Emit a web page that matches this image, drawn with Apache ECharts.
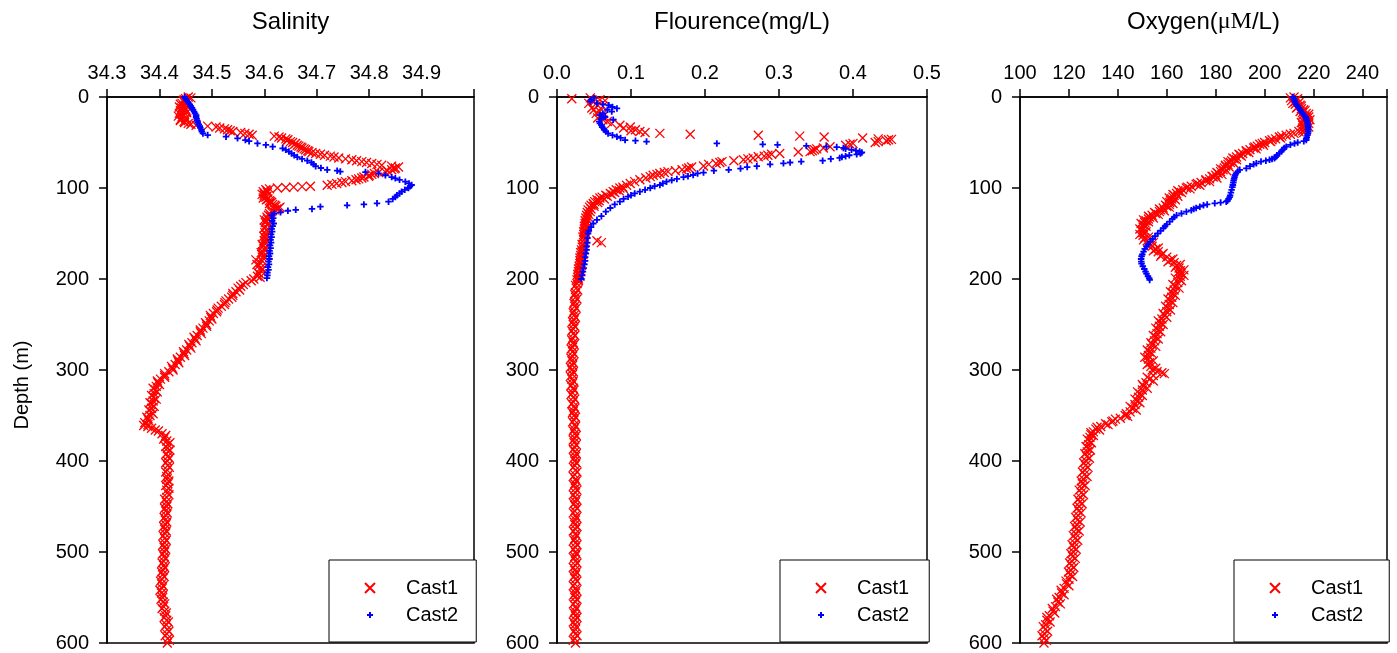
<!DOCTYPE html>
<html><head><meta charset="utf-8">
<script src="https://cdn.jsdelivr.net/npm/echarts@6/dist/echarts.min.js"></script>
<style>html,body{margin:0;padding:0;background:#fff}#c{width:1397px;height:653px}</style>
</head><body><div id="c"></div>
<script>
// ---- data: [depth (m), value] ----
const depthTicks = [0, 100, 200, 300, 400, 500, 600];
const salinityTicks = [34.3, 34.4, 34.5, 34.6, 34.7, 34.8, 34.9];
const flourenceTicks = [0.0, 0.1, 0.2, 0.3, 0.4, 0.5];
const oxygenTicks = [100, 120, 140, 160, 180, 200, 220, 240];

const salC1 = [[0,34.455],[1,34.46],[2,34.45],[3,34.447],[4,34.445],[5,34.452],[6,34.448],[7,34.443],[8,34.44],[9,34.45],[10,34.446],[11,34.438],[12,34.442],[13,34.449],[14,34.45],[15,34.44],[16,34.445],[17,34.452],[18,34.438],[19,34.444],[20,34.447],[21,34.436],[22,34.443],[23,34.45],[24,34.452],[25,34.44],[26,34.44],[27,34.447],[28,34.448],[29,34.455],[30,34.46],
[31,34.47],[32,34.492],[33,34.508],[34,34.515],[35,34.524],[36,34.53],[37,34.535],[38,34.54],[39,34.555],[40,34.563],[41,34.571],[42,34.577],
[43,34.619],[44,34.628],[45,34.633],[46,34.641],[47,34.645],[48,34.643],[49,34.65],[50,34.654],[51,34.66],[52,34.658],[53,34.663],[54,34.666],[55,34.67],[56,34.672],[57,34.676],[58,34.679],[59,34.683],[60,34.685],[61,34.691],[62,34.698],[63,34.707],[64,34.715],[65,34.726],[66,34.733],[67,34.742],[68,34.755],[69,34.767],[70,34.776],[71,34.786],[72,34.795],[73,34.805],[74,34.815],[75,34.824],[76,34.843],[77,34.856],[78,34.85],[79,34.848],[80,34.843],[81,34.835],[82,34.83],[83,34.818],[84,34.81],[85,34.805],[86,34.8],[87,34.799],[88,34.79],[89,34.786],[90,34.78],[91,34.775],[92,34.767],[93,34.755],[94,34.748],[95,34.738],[96,34.729],[97,34.72],
[98,34.688],[98.5,34.672],[99,34.656],[99.5,34.641],[100,34.625],[101,34.61],[102,34.603],[103,34.605],[104,34.598],[105,34.606],[106,34.6],[107,34.596],[108,34.6],[109,34.605],[110,34.603],[111,34.598],[112,34.607],[113,34.604],[114,34.61],[115,34.612],[116,34.614],[117,34.61],[118,34.616],[119,34.62],[120,34.622],[121,34.63],[122,34.628],[123,34.624],[124,34.62],[125,34.615],[126,34.613],[128,34.61],[130,34.608],[132,34.605],[134,34.606],[136,34.604],[138,34.602],[140,34.605],[143,34.603],[146,34.604],[149,34.601],[152,34.604],[155,34.602],[158,34.6],[161,34.601],[164,34.598],[167,34.599],[170,34.597],[173,34.595],[176,34.596],[179,34.584],[182,34.592],[185,34.59],[188,34.593],[191,34.594],[194,34.59],[197,34.587],[200,34.58],[202,34.575],[204,34.565],[206,34.56],[208,34.555],[210,34.55],
[214,34.546],[218,34.54],[222,34.532],[226,34.525],[230,34.518],[234,34.51],[238,34.503],[242,34.498],[246,34.495],[250,34.49],[254,34.483],[258,34.478],[262,34.472],[266,34.468],[270,34.462],[274,34.458],[278,34.452],[282,34.447],[286,34.44],[290,34.435],[294,34.43],[298,34.425],[302,34.418],[306,34.41],[310,34.402],[314,34.397],[318,34.394],[322,34.392],[326,34.39],[330,34.389],[334,34.388],[338,34.386],[342,34.385],[346,34.384],[350,34.382],[354,34.378],[358,34.372],[361,34.37],[364,34.385],[367,34.398],[370,34.405],[374,34.41],[378,34.414],[382,34.416],[386,34.415],[390,34.417],
[395,34.416],[400,34.415],[405,34.416],[410,34.415],[415,34.417],[420,34.414],[425,34.416],[430,34.418],[435,34.415],[440,34.414],[445,34.413],[450,34.414],[455,34.412],[460,34.413],[465,34.411],[470,34.412],[475,34.41],[480,34.411],[485,34.41],[490,34.41],[495,34.409],[500,34.41],[505,34.409],[510,34.408],[515,34.408],[520,34.407],[525,34.406],[530,34.405],[535,34.404],[540,34.405],[545,34.404],[550,34.406],[555,34.407],[560,34.408],[565,34.41],[570,34.412],[575,34.414],[580,34.413],[585,34.415],[590,34.414],[595,34.416],[600,34.415],
[131,34.612],[135,34.6],[139,34.608],[144,34.6],[148,34.607],[153,34.599],[157,34.604],[162,34.596],[166,34.602],[171,34.594],[175,34.6],[180,34.596],[184,34.586],[189,34.597],[193,34.588],[198,34.592],
[212,34.553],[216,34.54],[220,34.538],[224,34.527],[228,34.524],[232,34.512],[236,34.509],[240,34.497],[244,34.5],[248,34.488],[252,34.49],[256,34.478],[260,34.48],[264,34.466],[268,34.47],[272,34.456],[276,34.46],[280,34.446],[284,34.448],[288,34.434],[292,34.437],[296,34.423],[300,34.426],[304,34.41],[308,34.41],[312,34.396],[316,34.4],[320,34.388],[324,34.396],[328,34.385],[332,34.394],[336,34.382],[340,34.39],[344,34.38],[348,34.388],[352,34.376],[356,34.38],[360,34.378],[362,34.378],[366,34.392],[372,34.412],[376,34.408],[380,34.42],[384,34.412],[388,34.42],[392,34.413],[397,34.419],[402,34.412],[407,34.419],[412,34.412],[417,34.414],[422,34.418],[427,34.412],[432,34.414],[437,34.418],[442,34.41],[447,34.416],[452,34.41],[457,34.415],[462,34.409],[467,34.414],[472,34.408],[477,34.413],[482,34.407],[487,34.413],[492,34.407],[497,34.412],[502,34.406],[507,34.411],[512,34.405],[517,34.41],[522,34.404],[527,34.409],[532,34.402],[537,34.407],[542,34.401],[547,34.407],[552,34.403],[557,34.41],[562,34.405],[567,34.413],[572,34.409],[577,34.417],[582,34.41],[587,34.418],[592,34.411],[597,34.419]];

const salC2 = [[0,34.448],[2,34.45],[4,34.452],[6,34.455],[8,34.458],[10,34.46],[12,34.462],[14,34.464],[16,34.466],[18,34.468],[20,34.47],[22,34.47],[24,34.471],[26,34.472],[28,34.473],[30,34.475],[32,34.477],[34,34.478],[36,34.48],[38,34.481],[40,34.483],[41.8,34.492],[43.6,34.527],[45.4,34.549],[47.3,34.564],[48.5,34.571],[51,34.587],[52.7,34.603],[54.6,34.616],[56.4,34.635],[58,34.641],[60,34.647],[62,34.652],[64,34.657],[66,34.663],[68,34.672],[70,34.682],[72,34.69],[74,34.694],[76,34.698],[78,34.708],[80,34.72],[81,34.739],[82,34.745],[82.5,34.793],[84,34.818],[86,34.831],[88,34.843],[89.4,34.85],[91,34.858],[93,34.869],[95,34.876],[96.7,34.881],[98,34.878],[100,34.875],[102,34.868],[104,34.862],[106,34.858],[108,34.853],[110,34.85],[112,34.845],[115,34.837],[116.8,34.815],[118,34.79],[119,34.758],[120.5,34.707],[123,34.691],[124,34.66],[125,34.645],[126.7,34.631],[128,34.619],[130,34.614],[133,34.617],[136,34.615],[139,34.618],[142,34.616],[145,34.614],[148,34.615],[151,34.613],[154,34.614],[157,34.612],[160,34.613],[163,34.611],[166,34.612],[169,34.61],[172,34.611],[175,34.609],[178,34.61],[181,34.608],[184,34.609],[187,34.607],[190,34.608],[193,34.606],[196,34.606],[199,34.605]];

const flC1 = [[2,0.02],[1,0.045],[3,0.058],[4,0.065],[5,0.05],[7,0.043],[9,0.055],[10,0.062],[12,0.047],[14,0.05],[16,0.058],[18,0.053],[20,0.06],[21,0.063],[23,0.055],[25,0.062],[27,0.068],[29,0.074],[31,0.085],[33,0.099],[34,0.09],[36,0.106],[37,0.1],[38,0.112],[39,0.119],[40,0.139],[41,0.18],[42,0.272],[43,0.328],[44,0.361],[45,0.413],[46,0.434],[46.6,0.452],[47,0.448],[48,0.445],[49,0.434],[50,0.43],[51,0.4],[52,0.396],[53,0.39],[54.6,0.369],[56,0.36],[57,0.351],[58,0.348],[59,0.345],[60,0.342],[60.5,0.326],[62,0.301],[63,0.29],[64,0.285],[65,0.28],[65.6,0.272],[67,0.265],[68,0.258],[69,0.252],[70,0.239],[71,0.223],[72,0.22],[73,0.215],[74,0.205],[75.8,0.198],[77,0.182],[78,0.178],[79,0.175],[80,0.169],[81,0.16],[82,0.15],[83,0.145],[84,0.139],[85,0.135],[86,0.13],[87.5,0.126],[89,0.12],[91,0.112],[93,0.105],[95,0.099],[97,0.094],[99,0.089],[100,0.085],[102,0.08],[104,0.076],[106,0.072],[108,0.066],[110,0.061],[111,0.058],[113,0.054],[115,0.051],[117,0.049],[119,0.046],[121,0.044],[124,0.042],[127,0.041],[130,0.04],[133,0.039],[136,0.038],[139,0.038],[142,0.037],[145,0.037],[148,0.036],[151,0.036],[154,0.035],[157,0.036],[158,0.054],[160,0.06],[162,0.034],[165,0.034],[168,0.033],[171,0.032],[174,0.032],[177,0.031],[180,0.031],[183,0.031],[186,0.03],[189,0.029],[192,0.029],[195,0.028],[198,0.028],[201,0.027],[205,0.027],[210,0.026],[215,0.025],[220,0.025],[225,0.024],[230,0.024],[235,0.023],[240,0.023],[245,0.023],[250,0.022],[255,0.022],[260,0.022],[265,0.021],[270,0.022],[275,0.021],[280,0.021],[285,0.021],[290,0.02],[295,0.021],[300,0.02],[305,0.021],[310,0.02],[315,0.021],[320,0.022],[325,0.021],[330,0.022],[335,0.022],[340,0.023],[345,0.022],[350,0.023],[355,0.023],[360,0.024],[365,0.023],[370,0.024],[375,0.024],[380,0.023],[385,0.024],[390,0.024],[395,0.025],[400,0.024],[405,0.024],[410,0.025],[415,0.024],[420,0.025],[425,0.024],[430,0.025],[435,0.025],[440,0.024],[445,0.025],[450,0.025],[455,0.024],[460,0.025],[465,0.025],[470,0.024],[475,0.025],[480,0.025],[485,0.024],[490,0.025],[495,0.025],[500,0.025],[505,0.024],[510,0.025],[515,0.025],[520,0.024],[525,0.025],[530,0.025],[535,0.024],[540,0.025],[545,0.025],[550,0.024],[555,0.025],[560,0.025],[565,0.024],[570,0.025],[575,0.025],[580,0.024],[585,0.025],[590,0.025],[595,0.024],[600,0.025],
[101,0.09],[103,0.084],[105,0.078],[107,0.074],[109,0.068],[112,0.064],[114,0.057],[116,0.055],[118,0.05],[120,0.05],[123,0.046],[126,0.045],[129,0.043],[132,0.042],[135,0.041],[138,0.04],[141,0.039],[144,0.04],[147,0.038],[150,0.039],[153,0.037],[156,0.038],[161,0.037],[164,0.036],[167,0.036],[170,0.034],[173,0.035],[176,0.033],[179,0.034],[182,0.032],[185,0.033],[188,0.031],[191,0.032],[194,0.03],[197,0.031],[200,0.029],
[202,0.029],[207,0.025],[212,0.028],[217,0.024],[222,0.027],[227,0.023],[232,0.026],[237,0.022],[242,0.025],[247,0.021],[252,0.024],[257,0.02],[262,0.024],[267,0.02],[272,0.023],[277,0.019],[282,0.023],[287,0.019],[292,0.022],[297,0.018],[302,0.022],[307,0.018],[312,0.022],[317,0.019],[322,0.023],[327,0.019],[332,0.024],[337,0.02],[342,0.024],[347,0.021],[352,0.025],[357,0.021],[362,0.025],[367,0.022],[372,0.026],[377,0.022],[382,0.026],[387,0.022],[392,0.026],[397,0.023],[402,0.026],[407,0.022],[412,0.027],[417,0.022],[422,0.026],[427,0.023],[432,0.027],[437,0.022],[442,0.026],[447,0.023],[452,0.027],[457,0.022],[462,0.026],[467,0.023],[472,0.027],[477,0.022],[482,0.026],[487,0.023],[492,0.027],[497,0.022],[502,0.026],[507,0.023],[512,0.027],[517,0.022],[522,0.026],[527,0.023],[532,0.027],[537,0.022],[542,0.026],[547,0.023],[552,0.027],[557,0.022],[562,0.026],[567,0.023],[572,0.027],[577,0.022],[582,0.026],[587,0.023],[592,0.027],[597,0.022]];

const flC2 = [[1,0.05],[3,0.046],[5,0.045],[7,0.054],[8,0.062],[9,0.07],[11,0.075],[12.5,0.081],[14,0.068],[16,0.074],[18,0.062],[20,0.058],[22,0.065],[24,0.06],[25,0.076],[27,0.057],[29,0.058],[31,0.06],[33,0.061],[34.4,0.063],[36,0.064],[38,0.066],[40,0.069],[42,0.075],[43.6,0.081],[45,0.086],[47.3,0.092],[48,0.106],[49,0.121],[51,0.216],[52,0.278],[52.5,0.298],[53.8,0.337],[54.5,0.364],[55,0.378],[56,0.387],[57,0.39],[58,0.398],[59,0.404],[60,0.409],[61,0.412],[62,0.41],[63,0.405],[64,0.395],[65,0.39],[66,0.385],[67,0.382],[68,0.37],[70,0.359],[71,0.33],[72,0.315],[72.9,0.306],[74,0.288],[76,0.27],[77,0.257],[78.7,0.248],[80,0.232],[81,0.212],[83,0.198],[84,0.19],[85.7,0.184],[87,0.177],[88,0.171],[90,0.162],[91.5,0.155],[93,0.148],[95,0.143],[96.7,0.139],[98,0.132],[100,0.126],[102,0.119],[104,0.112],[106,0.105],[108,0.1],[109.5,0.096],[112,0.09],[115,0.085],[118,0.078],[122,0.072],[126,0.066],[131,0.06],[135,0.054],[139,0.049],[143,0.046],[147,0.043],[150,0.042],[155,0.041],[160,0.041],[164,0.04],[168,0.04],[172,0.039],[176,0.038],[180,0.038],[184,0.037],[188,0.036],[192,0.035],[196,0.034],[200,0.033]];

const oxC1 = [[0,212],[2,213.5],[4,211],[6,214],[8,212.5],[10,215],[12,213],[14,216],[16,214.5],[18,217],[20,215.5],[22,218],[24,216],[26,217.5],[28,215],[30,217],[32,216.5],[34,215.5],[36,217],[38,214],[40,212],[42,208.8],[44,206],[46,204.5],[48,202],[50,200],[52,198],[54,197],[56,195.5],[58,194],[60,192.5],[62,191],[64,190],[66,188.5],[68,187.5],[70,186.5],[72,186],[74,185],[76,184],[78,183.5],[80,183],[82,182],[84,181],[86,180],[88,179],[90,177.5],[92,176],[94,174],[96,172],[98,170],[100,168],[102,166.5],[104,165],[106,164],[108,163],[110,162.5],[112,162],[114,161.5],[116,161.2],[118,161],[120,160],[122,158.5],[124,157.5],[126,157],[128,155.5],[130,154],[132,153],[134,152.5],[136,151.5],[138,151],[140,150.5],[143,150.3],[146,150],[149,150.2],[152,150.3],[155,151],[158,152],[161,153],[164,154],[167,155.5],[170,156.5],[173,158],[176,160],[179,161.5],[182,163],[185,164],[188,165],[191,165.5],[194,165.8],[197,165.5],[200,165.3],[204,164.5],[208,163.5],[212,163],[216,162.5],[220,162],[224,161.5],[228,161],[232,160.5],[236,160],[240,159],[244,158],[248,157.5],[252,157],[256,156.5],[260,156],[264,155.5],[268,155],[272,154],[276,153.5],[280,153],[284,152.5],[288,152.5],[292,153],[296,153.5],[300,154],[303,158],[304,159],[306,154.5],[310,153],[314,151.5],[318,150.5],[322,150],[326,149],[330,148.5],[334,148],[338,147],[342,146],[346,145],[350,143],[353,141],[356,138],[359,135],[362,133],[365,131],[368,130],[371,129],[374,128.6],[378,128.3],[382,128],[386,127.8],[390,127.5],[395,127.3],[400,127],[405,126.8],[410,126.5],[415,126.3],[420,126],[425,125.5],[430,125.2],[435,125],[440,124.7],[445,124.5],[450,124.2],[455,124],[460,123.8],[465,123.5],[470,123.3],[475,123],[480,122.8],[485,122.5],[490,122.3],[495,122],[500,121.8],[505,121.5],[510,121.2],[515,121],[520,120.8],[525,120.5],[530,120],[535,119],[540,118],[545,117],[550,116],[555,115.5],[560,114.5],[565,113.5],[570,112],[575,111],[580,110.5],[585,110.3],[590,110],[595,109.8],[600,109.8],
[1,210.5],[3,213],[5,212.5],[7,211.5],[9,214.5],[11,213.5],[13,215],[15,216.5],[17,215.5],[19,218],[21,216.5],[23,217],[25,218.5],[27,216],[29,218],[31,215.5],[33,218],[35,216.5],[37,215.5],[39,216],
[41,210.5],[43,207],[45,206.5],[47,203],[49,202.5],[51,199],[53,199.5],[55,196],[57,196.5],[59,192.5],[61,193.5],[63,189.5],[65,190.5],[67,187],[69,188.5],[71,185],[73,187.5],[75,184],[77,185.5],[79,182],[81,184.5],[83,180.5],[85,182.5],[87,178.5],[89,180.5],[91,176],[93,177.5],[95,172.5],[97,173.5],[99,168.5],
[101,169.5],[103,164.5],[105,166],[107,162.5],[109,164.5],[111,161],[113,163.5],[115,160],[117,162.5],[119,159.5],[121,161],[123,157],[125,159],[127,155],[129,156.5],[131,152.5],[133,154.5],[135,150.5],[137,152.5],[139,149.5],[142,151.5],[145,149],[148,151.5],[151,149],[154,152.5],[157,150.5],[160,154.5],[163,152.5],[166,156.5],[169,154.5],[172,158.5],[175,157.5],[178,162.5],[181,160.5],[184,165.5],[187,163.5],[190,167],[193,164.5],[196,167],[199,163.5],[202,166],[206,162.5],[210,165],[214,161.5],[218,163.5],[222,160.5],[226,162.5],[230,159.5],[234,161.5],[238,158.5],[242,160],[246,156.5],[250,158.5],[254,155.5],[258,157.5],[262,154.5],[266,156.5],[270,153.5],[274,155.5],[278,152],[282,154],[286,151],[290,154.5],[294,152],[298,155.5],[302,156],[308,152],[312,154.5],[316,150],[320,152],[324,148],[328,150],[332,147],[336,149],[340,145],[344,147.5],[348,143.5],[351,144],[354,139],[357,137.5],[360,136],[363,131.5],[366,132.5],[369,129],[372,130],[376,127.5],[380,129.2],[384,127],[388,128.8],[392,126.5],[397,128.4],[402,126],[407,127.8],[412,125.5],[417,127.4],[422,125],[427,126.6],[432,124.2],[437,126],[442,123.7],[447,125.4],[452,123.3],[457,125],[462,122.8],[467,124.6],[472,122.3],[477,124.2],[482,121.8],[487,123.6],[492,121.3],[497,123],[502,120.8],[507,122.6],[512,120.3],[517,122],[522,119.8],[527,121.5],[532,118.8],[537,120],[542,116.8],[547,118],[552,115],[557,116.5],[562,113.2],[567,114.2],[572,111],[577,112.3],[582,109.5],[587,111.3],[592,109],[597,110.8]];

const oxC2 = [[0,211.5],[2,212],[4,212.2],[6,212.5],[8,212.9],[10,213.5],[12,214],[14,214.5],[16,214.9],[18,215.5],[20,216.2],[22,216.8],[24,217],[26,217.2],[28,217.5],[30,217.6],[32,217.7],[34,217.8],[36,217.7],[38,217.8],[40,217.7],[42,217.5],[44,217.2],[46,217],[47.3,217],[48.5,216],[50,213.5],[51,212.2],[52.5,210.5],[54.6,208.8],[56,208],[58,207.3],[60,206.8],[62,206],[64,205],[66,204.5],[67.4,204],[68,203],[69,202],[70,200.5],[71,198.5],[72.9,196.6],[74,195.5],[76,194],[78.4,192.5],[80,189.8],[82,189],[84,188.3],[86,187.9],[88,187.7],[90,187.5],[92,187.3],[94,187.2],[96.7,187],[99,186.8],[102,186.5],[105,186.2],[108,185.9],[110,185.7],[112,185.3],[114,184.8],[115,184.3],[116,182],[116.8,179.6],[118,176.5],[119,175],[120.5,173.5],[122,172],[123,171],[124.5,170],[126,168],[128,166],[130,164],[132,163],[134,162.3],[137,161.2],[140,160],[142,159.3],[144,158.6],[147,157.5],[150,156.3],[153,155.2],[156,154.2],[159,153.2],[162,152.3],[164,151.7],[167,151],[170,150.5],[173,150],[175,149.7],[178,149.5],[181,149.6],[183,149.7],[186,150.2],[189,150.8],[192,151.3],[194,151.7],[197,152.3],[199,152.8],[201,153]];

// ---- chart ----
const FONT = '"Liberation Sans", Arial, sans-serif';
const SYM_X = 'path://M0,0L10,10M10,0L0,10';
const SYM_P = 'path://M0,5L10,5M5,0L5,10';
const ICON_X = 'path://M0,0M52,14M21,2L31,12M31,2L21,12';
const ICON_P = 'path://M0,0M52,14M23,7L29,7M26,4L26,10';

const panels = [
  {title: 'Salinity', ticks: salinityTicks, max: 35.0, c1: salC1, c2: salC2, left: 107, width: 367, legLeft: 329, padR: 18, dec: 1},
  {title: 'Flourence(mg/L)', ticks: flourenceTicks, max: 0.5, c1: flC1, c2: flC2, left: 557, width: 370, legLeft: 780, padR: 20, dec: 1},
  {title: 'Oxygen({mu|μM}/L)', ticks: oxygenTicks, max: 250, c1: oxC1, c2: oxC2, left: 1020, width: 367, legLeft: 1234, padR: 26, dec: 0}
];
const TOP = 97, HEIGHT = 546;

const chart = echarts.init(document.getElementById('c'), null, {renderer: 'canvas'});
const option = {
  animation: false,
  backgroundColor: '#fff',
  grid: panels.map(p => ({left: p.left, top: TOP, width: p.width, height: HEIGHT, show: true, borderColor: '#000', borderWidth: 1.5, backgroundColor: 'transparent', containLabel: false, outerBoundsMode: 'none'})),
  xAxis: panels.map((p, i) => {
    const interval = +(p.ticks[1] - p.ticks[0]).toFixed(6);
    const showSet = new Set(p.ticks.map(t => t.toFixed(p.dec)));
    return {
      type: 'value', gridIndex: i, position: 'top',
      min: p.ticks[0], max: p.max, interval: interval,
      axisLine: {show: true, onZero: false, lineStyle: {color: '#000', width: 1.5}},
      axisTick: {show: true, inside: false, length: 8, lineStyle: {color: '#000', width: 1.5}},
      axisLabel: {show: true, color: '#000', fontSize: 20, fontFamily: FONT, margin: 14,
        formatter: v => { const s = (+v).toFixed(p.dec); return showSet.has(s) ? s : ''; }},
      splitLine: {show: false}
    };
  }),
  yAxis: panels.map((p, i) => ({
    type: 'value', gridIndex: i, inverse: true,
    min: depthTicks[0], max: depthTicks[depthTicks.length - 1], interval: depthTicks[1] - depthTicks[0],
    axisLine: {show: true, onZero: false, lineStyle: {color: '#000', width: 1.5}},
    axisTick: {show: true, inside: false, length: 8, lineStyle: {color: '#000', width: 1.5}},
    axisLabel: {show: true, color: '#000', fontSize: 20, fontFamily: FONT, margin: 18},
    splitLine: {show: false}
  })),
  legend: panels.map(p => ({
    orient: 'vertical', left: p.legLeft, top: 560,
    padding: [18, p.padR, 17, 14],
    itemWidth: 52, itemHeight: 14, itemGap: 7,
    borderColor: '#000', borderWidth: 1, backgroundColor: '#fff',
    textStyle: {fontSize: 20, fontFamily: FONT, color: '#000', padding: [0, 0, 0, 5]},
    selectedMode: false,
    data: [{name: 'Cast1', icon: ICON_X}, {name: 'Cast2', icon: ICON_P}]
  })),
  graphic: [
    ...panels.map(p => ({
      type: 'text', x: p.left + p.width / 2, y: 22, silent: true,
      style: {text: p.title, fontSize: 24, fontFamily: FONT, fill: '#000', align: 'center', verticalAlign: 'middle',
        rich: {mu: {fontSize: 24, fontFamily: '"Liberation Serif", "Times New Roman", serif', fill: '#000'}}}
    })),
    {type: 'text', x: 22, y: 385, rotation: Math.PI / 2, silent: true,
      style: {text: 'Depth (m)', fontSize: 20, fontFamily: FONT, fill: '#000', align: 'center', verticalAlign: 'middle'}}
  ],
  series: panels.flatMap((p, i) => [
    {type: 'scatter', name: 'Cast1', xAxisIndex: i, yAxisIndex: i, silent: true,
      data: p.c1.map(([d, v]) => [v, d]), symbol: SYM_X, symbolSize: 9,
      itemStyle: {color: '#ff0000', borderColor: '#ff0000', borderWidth: 1.3, opacity: 1}},
    {type: 'scatter', name: 'Cast2', xAxisIndex: i, yAxisIndex: i, silent: true,
      data: p.c2.map(([d, v]) => [v, d]), symbol: SYM_P, symbolSize: 6.5,
      itemStyle: {color: '#0000ff', borderColor: '#0000ff', borderWidth: 1.8, opacity: 1}}
  ])
};
chart.setOption(option);
</script>
</body></html>
